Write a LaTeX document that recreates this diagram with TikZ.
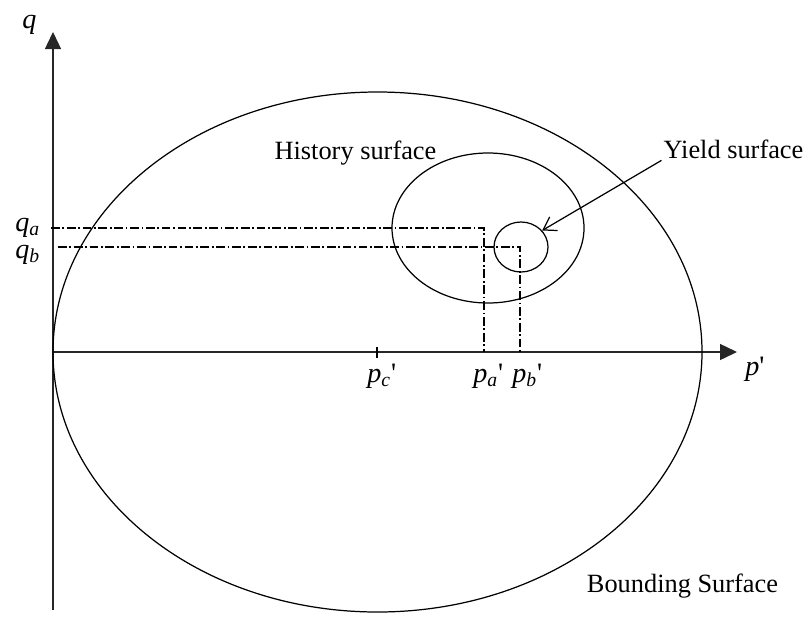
\documentclass[tikz,border=0pt]{standalone}
\usepackage{fontspec}
\setmainfont{Liberation Serif}
\usetikzlibrary{arrows.meta,shapes.geometric}

\begin{document}
\begin{tikzpicture}[
  surf/.style={draw,ellipse,inner sep=0pt,line width=0.7pt},
  axisline/.style={line width=0.8pt,draw=black!85,-{Triangle[length=0.34cm,width=0.32cm]}},
  guide/.style={line width=0.6pt,dash pattern=on 5pt off 1.5pt on 1pt off 1.5pt},
  txt/.style={font=\fontsize{15}{18}\selectfont,inner sep=1pt},
  sym/.style={font=\fontsize{16}{18}\selectfont,inner sep=0pt}
]
\useasboundingbox (-1.06,-5.42) rectangle (15.14,7.04);
\coordinate (o) at (0,0);
\coordinate (qtop) at (0,6.4);
\coordinate (qbot) at (0,-5.16);
\coordinate (pend) at (13.68,0);
\draw[axisline] (qbot) -- (qtop);
\draw[axisline] (o) -- (pend);
\node[surf,minimum width=12.98cm,minimum height=10.4cm] (bound) at (6.49,0) {};
\node[surf,minimum width=3.84cm,minimum height=3.0cm] (hist) at (8.7,2.48) {};
\node[surf,minimum width=1.08cm,minimum height=1.0cm] (yield) at (9.36,2.1) {};
\coordinate (qa) at (-0.04,2.48);
\coordinate (acorner) at (8.62,2.48);
\coordinate (pa) at (8.62,0);
\coordinate (qb) at (0.1,2.1);
\coordinate (bcorner) at (9.34,2.1);
\coordinate (pb) at (9.34,0);
\draw[guide] (qa) -- (acorner) -- (pa);
\draw[guide] (qb) -- (bcorner) -- (pb);
\coordinate (pc) at (6.48,0);
\draw[line width=0.7pt] ([yshift=0.1cm]pc) -- ([yshift=-0.12cm]pc);
\node[sym,anchor=base west] (qlabel) at (-0.62,6.48) {\textit{q}};
\node[sym,anchor=base west] (qalabel) at (-0.76,2.42) {\textit{q}\textsubscript{\textit{a}}};
\node[sym,anchor=base west] (qblabel) at (-0.76,1.88) {\textit{q}\textsubscript{\textit{b}}};
\node[sym,anchor=base west] (pclabel) at (6.28,-0.6) {\textit{p}\textsubscript{\textit{c}}\textquotesingle};
\node[sym,anchor=base west] (palabel) at (8.4,-0.6) {\textit{p}\textsubscript{\textit{a}}\textquotesingle};
\node[sym,anchor=base west] (pblabel) at (9.18,-0.6) {\textit{p}\textsubscript{\textit{b}}\textquotesingle};
\node[sym,anchor=base west] (plabel) at (13.84,-0.46) {\textit{p}\textquotesingle};
\node[txt,anchor=base] (hlabel) at (6.05,3.86) {History surface};
\node[txt,anchor=base] (ylabel) at (13.61,3.88) {Yield surface};
\node[txt,anchor=base] (blabel) at (12.59,-4.8) {Bounding Surface};
\draw[line width=0.7pt,-{Straight Barb[length=7pt,width=9pt]}] (ylabel.south west) -- (yield.38);
\end{tikzpicture}
\end{document}
